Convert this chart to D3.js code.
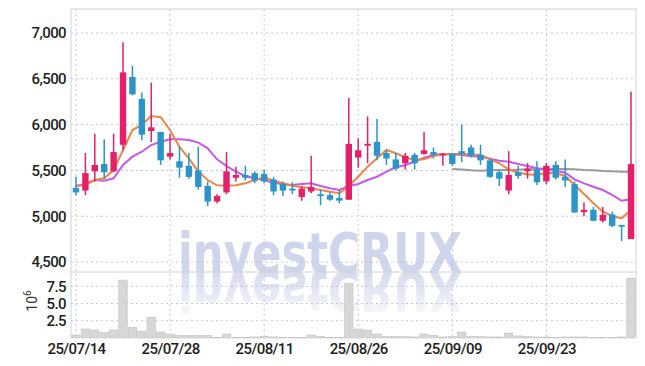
<!DOCTYPE html>
<html>
<head>
<meta charset="utf-8">
<script src="https://cdn.jsdelivr.net/npm/d3@7"></script>
<style>
  body { margin: 0; background: #fff; }
  svg { display: block; }
  text { font-family: Roboto, "Noto Sans", sans-serif; }
</style>
</head>
<body>
<svg id="chart"></svg>
<script>
// trading days shown (KRX, holidays skipped)
const dates = [
  "2025-07-14","2025-07-15","2025-07-16","2025-07-17","2025-07-18","2025-07-21","2025-07-22","2025-07-23","2025-07-24","2025-07-25",
  "2025-07-28","2025-07-29","2025-07-30","2025-07-31","2025-08-01","2025-08-04","2025-08-05","2025-08-06","2025-08-07","2025-08-08",
  "2025-08-11","2025-08-12","2025-08-13","2025-08-14","2025-08-18","2025-08-19","2025-08-20","2025-08-21","2025-08-22","2025-08-25",
  "2025-08-26","2025-08-27","2025-08-28","2025-08-29","2025-09-01","2025-09-02","2025-09-03","2025-09-04","2025-09-05","2025-09-08",
  "2025-09-09","2025-09-10","2025-09-11","2025-09-12","2025-09-15","2025-09-16","2025-09-17","2025-09-18","2025-09-19","2025-09-22",
  "2025-09-23","2025-09-24","2025-09-25","2025-09-26","2025-09-29","2025-09-30","2025-10-01","2025-10-02","2025-10-10","2025-10-13"
]

const open = [
  5310,5280,5490,5570,5490,5780,6520,6280,5930,5920,
  5650,5600,5550,5500,5330,5160,5260,5420,5450,5470,
  5460,5400,5350,5300,5210,5270,5240,5230,5200,5180,
  5640,5770,5810,5690,5620,5580,5670,5680,5700,5670,
  5680,5710,5750,5670,5610,5480,5280,5480,5490,5510,
  5380,5560,5430,5350,5045,5070,4950,5020,4905,4750
]
const high = [
  5430,5690,5900,5840,5900,6900,6640,6350,6460,5920,
  5900,5760,5690,5760,5380,5240,5700,5540,5550,5490,
  5510,5430,5380,5370,5330,5660,5290,5260,5290,6290,
  5850,6090,6060,5720,5690,5690,5690,5920,5750,5690,
  5690,6000,5780,5780,5630,5500,5710,5550,5580,5600,
  5580,5600,5620,5380,5150,5100,5100,5050,4905,6360
]
const low = [
  5230,5230,5380,5410,5480,5720,6320,5830,5810,5560,
  5620,5420,5410,5290,5110,5140,5240,5380,5390,5360,
  5360,5230,5220,5240,5170,5250,5120,5170,5140,5180,
  5530,5580,5610,5560,5500,5510,5510,5670,5630,5550,
  5550,5590,5640,5560,5420,5330,5240,5410,5410,5340,
  5350,5400,5320,5040,5000,4950,4930,4880,4730,4750
]
const close = [
  5260,5470,5560,5480,5700,6570,6330,5890,5970,5610,
  5690,5530,5430,5320,5160,5220,5490,5450,5420,5390,
  5380,5270,5280,5280,5300,5320,5220,5180,5170,5790,
  5720,5790,5660,5630,5520,5660,5580,5720,5670,5680,
  5570,5680,5660,5610,5430,5410,5450,5440,5520,5370,
  5550,5420,5390,5040,5070,4950,5015,4895,4885,5570
]
const volume = [
  430000,1300000,1160000,770000,1160000,8400000,1550000,1000000,3000000,870000,
  580000,390000,390000,390000,390000,100000,580000,100000,100000,150000,
  250000,150000,100000,100000,100000,430000,250000,100000,100000,7900000,
  1300000,1160000,580000,250000,200000,200000,150000,580000,390000,150000,
  200000,870000,250000,200000,150000,150000,720000,300000,200000,150000,
  150000,100000,150000,150000,150000,50000,50000,50000,150000,8650000
]

// moving averages as drawn in the picture
const ma5 = [
  5330,5341,5395,5414,5504,5723,5941,5996,6094,6080,
  5941,5756,5632,5486,5395,5337,5333,5337,5359,5395,
  5425,5388,5359,5333,5316,5305,5286,5268,5250,5330,
  5431,5541,5632,5723,5687,5643,5614,5621,5657,5676,
  5679,5679,5676,5668,5624,5578,5512,5475,5458,5450,
  5475,5468,5439,5341,5242,5141,5049,5002,4977,5068
]
const ma10 = [
  5330,5352,5395,5388,5414,5559,5650,5704,5777,5813,
  5840,5840,5832,5803,5741,5621,5548,5486,5439,5414,
  5395,5366,5349,5341,5352,5359,5330,5305,5286,5330,
  5352,5395,5431,5486,5534,5559,5595,5639,5668,5679,
  5676,5668,5657,5650,5627,5606,5595,5570,5548,5523,
  5512,5497,5475,5403,5359,5322,5286,5232,5169,5185
]
const ma60 = [
  null,null,null,null,null,null,null,null,null,null,
  null,null,null,null,null,null,null,null,null,null,
  null,null,null,null,null,null,null,null,null,null,
  null,null,null,null,null,null,null,null,null,null,
  5515,5510,5501,5497,5501,5504,5504,5508,5512,5512,
  5515,5515,5515,5512,5504,5501,5494,5490,5486,5486
]

const tickDates = ["2025-07-14","2025-07-28","2025-08-11","2025-08-26","2025-09-09","2025-09-23"]
const priceTicks = [4500, 5000, 5500, 6000, 6500, 7000]
const volumeTicks = [2500000, 5000000, 7500000]

const upColor = "#e61f6a"
const downColor = "#2b94c9"
const gridColor = "#c6c6da"

const width = 645
const height = 366
const left = 71, right = 636
const priceTop = 9, priceBottom = 272
const volTop = 272, volBottom = 338

const svg = d3.select("#chart")
  .attr("width", width)
  .attr("height", height)

const x = d3.scalePoint()
  .domain(dates)
  .range([left, right])
  .padding(0.53)

const yPrice = d3.scaleLinear()
  .domain([4391, 7262])
  .range([priceBottom, priceTop])

const yVol = d3.scaleLinear()
  .domain([0, 9570000])
  .range([volBottom, volTop])

// watermark with reflection (one text, drawn twice through <use>)
const defs = svg.append("defs")
const grad = defs.append("linearGradient")
  .attr("id", "fade")
  .attr("gradientUnits", "userSpaceOnUse")
  .attr("x1", 0).attr("x2", 0)
  .attr("y1", priceBottom).attr("y2", priceBottom - 45)
grad.append("stop").attr("offset", 0).attr("stop-color", "#d3d8ec").attr("stop-opacity", 0.95)
grad.append("stop").attr("offset", 1).attr("stop-color", "#d3d8ec").attr("stop-opacity", 0.15)

defs.append("clipPath").attr("id", "top-half")
  .append("rect").attr("x", 0).attr("y", 0).attr("width", width).attr("height", priceBottom)

defs.append("text")
  .attr("id", "wm-text")
  .attr("x", 178)
  .attr("y", priceBottom)
  .attr("textLength", 284)
  .attr("lengthAdjust", "spacingAndGlyphs")
  .style("font-family", "'DejaVu Sans', sans-serif")
  .style("font-weight", "bold")
  .style("font-size", "56px")
  .text("investCRUX")

const wm = svg.append("g")
wm.append("use")
  .attr("href", "#wm-text")
  .attr("clip-path", "url(#top-half)")
  .attr("fill", "#cfd5ea")
wm.append("g")
  .attr("transform", `translate(0,${2 * priceBottom}) scale(1,-1)`)
  .append("use")
  .attr("href", "#wm-text")
  .attr("clip-path", "url(#top-half)")
  .attr("fill", "url(#fade)")

// grid
svg.append("g")
  .selectAll("line")
  .data(priceTicks)
  .enter()
  .append("line")
  .attr("x1", left).attr("x2", right)
  .attr("y1", d => yPrice(d)).attr("y2", d => yPrice(d))
  .attr("stroke", gridColor)
  .attr("stroke-dasharray", "2,3")

svg.append("g")
  .selectAll("line")
  .data(volumeTicks)
  .enter()
  .append("line")
  .attr("x1", left).attr("x2", right)
  .attr("y1", d => yVol(d)).attr("y2", d => yVol(d))
  .attr("stroke", gridColor)
  .attr("stroke-dasharray", "2,3")

svg.append("g")
  .selectAll("line")
  .data(tickDates)
  .enter()
  .append("line")
  .attr("x1", d => x(d)).attr("x2", d => x(d))
  .attr("y1", priceTop).attr("y2", volBottom)
  .attr("stroke", gridColor)
  .attr("stroke-dasharray", "2,3")

// frame
svg.append("rect")
  .attr("x", left).attr("y", priceTop)
  .attr("width", right - left).attr("height", priceBottom - priceTop)
  .attr("fill", "none")
  .attr("stroke", "#d2d2d2")
svg.append("line")
  .attr("x1", left).attr("x2", left)
  .attr("y1", volTop).attr("y2", volBottom)
  .attr("stroke", "#d2d2d2")
svg.append("line")
  .attr("x1", right).attr("x2", right)
  .attr("y1", volTop).attr("y2", volBottom)
  .attr("stroke", "#d2d2d2")

// volume bars
const step = x.step()
svg.append("g")
  .selectAll("rect")
  .data(volume)
  .enter()
  .append("rect")
  .attr("x", (d, i) => x(dates[i]) - step / 2 + 0.5)
  .attr("y", d => yVol(d))
  .attr("width", step - 1)
  .attr("height", d => yVol(0) - yVol(d))
  .attr("fill", "#d7d7d7")
  .attr("stroke", "#c2c2c2")
  .attr("stroke-width", 0.6)

// moving averages
const line = d3.line()
  .defined(d => d != null)
  .x((d, i) => x(dates[i]))
  .y(d => yPrice(d))

svg.append("path").datum(ma60)
  .attr("d", line)
  .attr("fill", "none")
  .attr("stroke", "#8a8a8a")
  .attr("stroke-width", 2)
  .attr("opacity", 0.85)

svg.append("path").datum(ma10)
  .attr("d", line)
  .attr("fill", "none")
  .attr("stroke", "#c659e8")
  .attr("stroke-width", 2)

svg.append("path").datum(ma5)
  .attr("d", line)
  .attr("fill", "none")
  .attr("stroke", "#ee8446")
  .attr("stroke-width", 2)

// candles
const bodyW = step * 0.68
const candles = svg.append("g")
  .selectAll("g")
  .data(dates)
  .enter()
  .append("g")
  .attr("fill", (d, i) => close[i] >= open[i] ? upColor : downColor)
  .attr("stroke", (d, i) => close[i] >= open[i] ? upColor : downColor)

candles.append("line")
  .attr("x1", d => x(d)).attr("x2", d => x(d))
  .attr("y1", (d, i) => yPrice(high[i]))
  .attr("y2", (d, i) => yPrice(low[i]))
  .attr("stroke-width", 1.5)

candles.append("rect")
  .attr("x", d => x(d) - bodyW / 2)
  .attr("y", (d, i) => yPrice(Math.max(open[i], close[i])))
  .attr("width", bodyW)
  .attr("height", (d, i) => Math.max(1.5, Math.abs(yPrice(open[i]) - yPrice(close[i]))))
  .attr("stroke", "none")

// axes
const priceAxis = d3.axisLeft(yPrice)
  .tickValues(priceTicks)
  .tickFormat(d3.format(","))
  .tickSize(0)
  .tickPadding(5)

const volAxis = d3.axisLeft(yVol)
  .tickValues(volumeTicks)
  .tickFormat(d => (d / 1e6).toFixed(1))
  .tickSize(0)
  .tickPadding(5)

const xAxis = d3.axisBottom(x)
  .tickValues(tickDates)
  .tickFormat(d => d.slice(2).replace(/-/g, "/"))
  .tickSize(0)
  .tickPadding(5)

svg.append("g").attr("transform", `translate(${left},0)`).call(priceAxis)
svg.append("g").attr("transform", `translate(${left},0)`).call(volAxis)
svg.append("g").attr("transform", `translate(0,${volBottom})`).call(xAxis)

svg.selectAll(".domain").remove()
svg.selectAll(".tick text")
  .attr("fill", "#1e1e1e")
  .style("font-family", "Roboto, 'Noto Sans', sans-serif")
  .style("font-weight", 500)
  .style("font-size", "15px")
  .style("letter-spacing", "-0.6px")

// volume unit label
const unit = svg.append("text")
  .attr("transform", "translate(37,301) rotate(-90)")
  .attr("text-anchor", "middle")
  .attr("fill", "#333")
  .style("font-size", "14px")
unit.append("tspan").text("10")
unit.append("tspan").attr("dy", -6).style("font-size", "10px").text("6")
</script>
</body>
</html>
